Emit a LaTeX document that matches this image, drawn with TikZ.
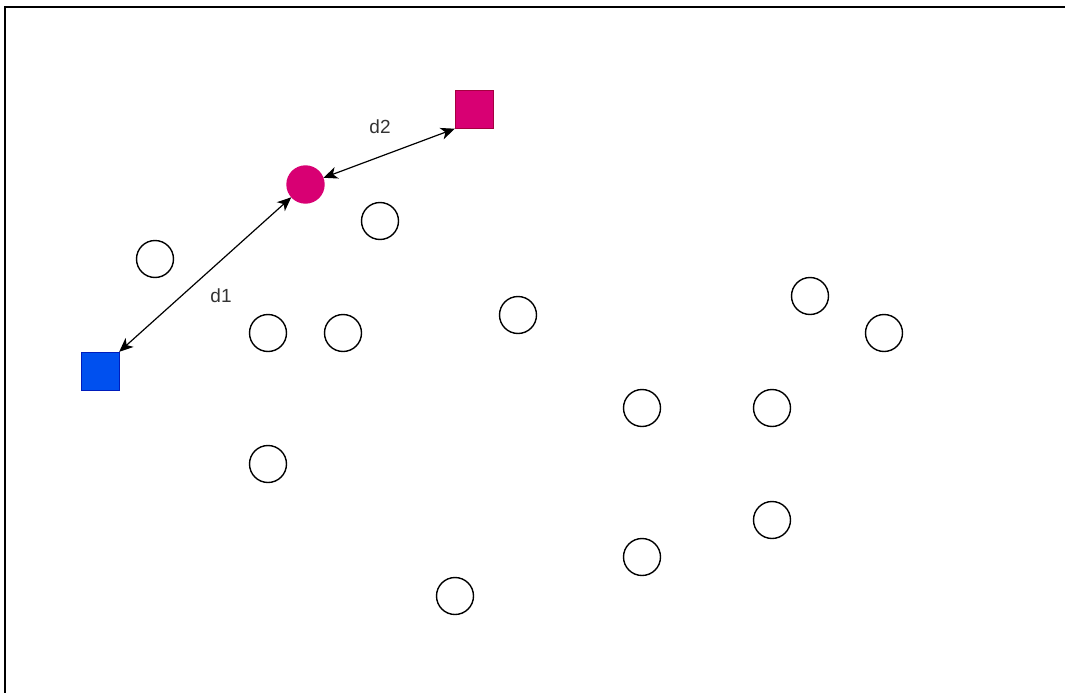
\documentclass[tikz,border=0pt]{standalone}
\usepackage{fontspec}
\setmainfont{Liberation Sans}
\usepackage{tikz}
\usetikzlibrary{positioning, arrows.meta}
\definecolor{drawpink}{RGB}{216,0,115}
\definecolor{drawpinkline}{RGB}{165,0,64}
\definecolor{drawblue}{RGB}{0,80,239}
\definecolor{drawblueline}{RGB}{0,29,188}

\begin{document}
\begin{tikzpicture}[x=1pt, y=-1pt,
    point/.style={draw, circle, line width=1.4pt, minimum size=37pt, inner sep=0pt},
    anchorsq/.style={draw, minimum size=38pt, inner sep=0pt},
    dist/.style={{Stealth[length=14pt,width=12pt,inset=4pt]}-{Stealth[length=14pt,width=12pt,inset=4pt]}, line width=1.2pt},
    lbl/.style={font=\fontsize{19}{22}\selectfont, text=black!80}]
    \useasboundingbox (0,0) rectangle (1065,693);
    % screenshot frame
    \draw[line width=1.5pt] (5,693) -- (5,7) -- (1065,7);
    % unlabelled points
    \foreach \px/\py [count=\i] in {380/221, 155/259, 268/333, 343/333, 518/315,
        810/296, 884/333, 642/408, 772/408, 268/464, 772/520, 642/557, 455/596}
      \node[point] (p\i) at (\px,\py) {};
    % the located point and its two references
    \node[point, fill=drawpink, draw=drawpink] (target) at (305.5,184.5) {};
    \node[anchorsq, fill=drawpink, draw=drawpinkline] (refpink) at (474,109.5) {};
    \node[anchorsq, fill=drawblue, draw=drawblueline] (refblue) at (100,371) {};
    \draw[dist] (refblue.north east) -- (target);
    \draw[dist] (target) -- (refpink.south west);
    \node[lbl] (d1) at (221,296) {d1};
    \node[lbl] (d2) at (380,127) {d2};
\end{tikzpicture}
\end{document}
